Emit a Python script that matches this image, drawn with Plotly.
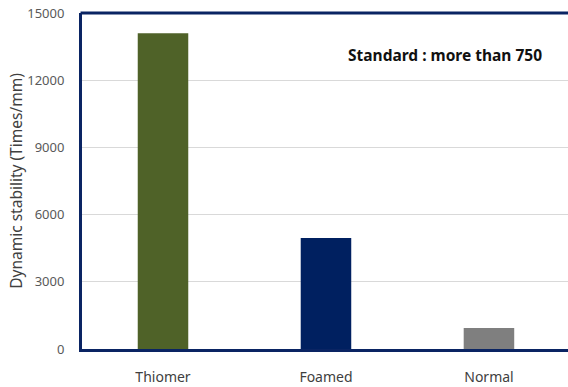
import plotly.graph_objects as go

categories = ["Thiomer", "Foamed", "Normal"]
values = [14100, 4960, 940]
colors = ["#4f6228", "#002060", "#7f7f7f"]
y_ticks = [0, 3000, 6000, 9000, 12000, 15000]
y_tick_labels = ["0", "3000", "6000", "9000", "12000", "15000"]

fig = go.Figure()
fig.add_trace(go.Bar(x=categories, y=values, marker=dict(color=colors, line=dict(width=0)),
                     width=0.31))

navy = "#0a2463"
fig.update_layout(
    width=568, height=387,
    margin=dict(l=82, r=0, t=13, b=38),
    paper_bgcolor="white", plot_bgcolor="white",
    showlegend=False,
    font=dict(family="Noto Sans", size=12, color="#595959"),
    xaxis=dict(range=[-0.497, 2.485], showline=True, linecolor=navy, linewidth=3,
               showgrid=False, ticks="", ticklabelstandoff=13,
               tickfont=dict(size=14, color="#404040")),
    yaxis=dict(range=[0, 15000], tickvals=y_ticks, ticktext=y_tick_labels,
               showline=True, linecolor=navy,
               linewidth=3, showgrid=True, gridcolor="#d9d9d9", gridwidth=1,
               zeroline=False, ticks="", ticklabelstandoff=12,
               tickfont=dict(size=13, color="#595959"),
               title=dict(text="Dynamic stability (Times/mm)", standoff=1,
                          font=dict(size=15.5, color="#404040"))),
    shapes=[dict(type="line", xref="paper", yref="paper", x0=-0.003, x1=1, y0=1, y1=1,
                 line=dict(color=navy, width=3))],
    annotations=[dict(text="<b>Standard : more than 750</b>", x=0.747, y=0.875,
                      xref="paper", yref="paper", showarrow=False,
                      xanchor="center", yanchor="middle",
                      font=dict(size=15.5, color="#111111"))],
)
fig.write_html("out.html")
